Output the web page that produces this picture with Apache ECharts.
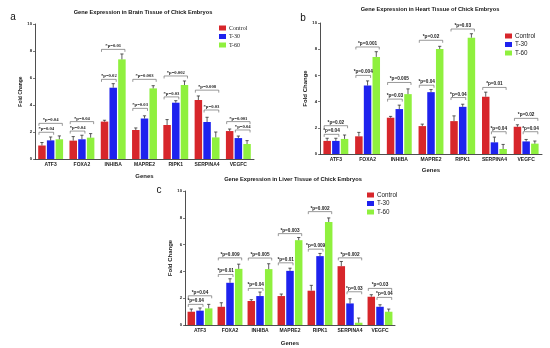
<!DOCTYPE html>
<html><head><meta charset="utf-8">
<script src="https://cdn.jsdelivr.net/npm/echarts@6/dist/echarts.min.js"></script>
<style>html,body{margin:0;padding:0;background:#fff}#c{width:550px;height:348px}</style>
</head><body><div id="c"></div>
<script>
const genes = ['ATF3','FOXA2','INHIBA','MAPRE2','RIPK1','SERPINA4','VEGFC'];
const groups = ['Control','T-30','T-60'];
const yTicks = [0,2,4,6,8,10];

// Brain
const brainControl = [1.0,1.36,2.77,2.15,2.52,4.37,2.07];
const brainT30 = [1.38,1.46,5.28,3.0,4.17,2.74,1.55];
const brainT60 = [1.46,1.58,7.38,5.23,5.48,1.6,1.11];
const brainControlErr = [0.22,0.3,0.1,0.15,0.4,0.3,0.15];
const brainT30Err = [0.25,0.3,0.3,0.2,0.15,0.35,0.15];
const brainT60Err = [0.25,0.3,0.4,0.2,0.3,0.4,0.25];
// [gene index, from group, to group, level, label]
const brainBrackets = [
 [0,0,2,2.64,'*p=0.04'],[0,0,1,1.98,'*p=0.04'],
 [1,0,2,2.77,'*p=0.04'],[1,0,1,2.07,'*p=0.04'],
 [2,0,2,8.12,'*p=0.01'],[2,0,1,5.9,'*p=0.02'],
 [3,0,2,5.9,'*p=0.003'],[3,0,1,3.75,'*p=0.03'],
 [4,0,2,6.15,'*p=0.002'],[4,0,1,4.6,'*p=0.03'],
 [5,0,2,5.1,'*p=0.008'],[5,1,2,3.63,'*p=0.03'],
 [6,0,2,2.77,'*p=0.001'],[6,1,2,2.15,'*p=0.04']
];

// Heart
const heartControl = [1.0,1.35,2.77,2.13,2.51,4.37,2.08];
const heartT30 = [1.0,5.23,3.43,4.72,3.6,0.89,0.96];
const heartT60 = [1.15,7.41,4.57,8.02,8.88,0.38,0.79];
const heartControlErr = [0.2,0.3,0.1,0.15,0.4,0.35,0.15];
const heartT30Err = [0.2,0.35,0.3,0.2,0.2,0.4,0.15];
const heartT60Err = [0.3,0.4,0.4,0.2,0.3,0.35,0.2];
const heartBrackets = [
 [0,0,2,2.16,'*p=0.02'],[0,0,1,1.5,'*p=0.04'],
 [1,0,2,8.17,'*p=0.001'],[1,0,1,6.0,'*p=0.004'],
 [2,0,2,5.46,'*p=0.005'],[2,0,1,4.19,'*p=0.03'],
 [3,0,2,8.68,'*p=0.02'],[3,0,1,5.25,'*p=0.04'],
 [4,0,2,9.54,'*p=0.03'],[4,0,1,4.31,'*p=0.04'],
 [5,0,2,5.08,'*p=0.01'],[5,1,2,1.7,'*p=0.04'],
 [6,0,2,2.72,'*p=0.02'],[6,1,2,1.7,'*p=0.04']
];

// Liver
const liverControl = [0.99,1.36,1.79,2.16,2.56,4.39,2.11];
const liverT30 = [1.07,3.15,2.16,4.04,5.14,1.61,1.36];
const liverT60 = [1.24,4.19,4.17,6.33,7.69,0.17,0.99];
const liverControlErr = [0.2,0.3,0.1,0.15,0.4,0.35,0.15];
const liverT30Err = [0.2,0.3,0.3,0.2,0.2,0.35,0.15];
const liverT60Err = [0.3,0.35,0.4,0.2,0.3,0.35,0.2];
const liverBrackets = [
 [0,0,2,2.18,'*p=0.04'],[0,0,1,1.54,'*p=0.04'],
 [1,0,2,5.01,'*p=0.009'],[1,0,1,3.77,'*p=0.01'],
 [2,0,2,5.0,'*p=0.005'],[2,0,1,2.73,'*p=0.04'],
 [3,0,2,6.82,'*p=0.003'],[3,0,1,4.64,'*p=0.01'],
 [4,0,2,8.46,'*p=0.002'],[4,0,1,5.66,'*p=0.009'],
 [5,0,2,5.01,'*p=0.002'],[5,1,2,2.48,'*p=0.03'],
 [6,0,2,2.73,'*p=0.03'],[6,1,2,2.06,'*p=0.04']
];

const colors = ['#d7262b','#1e22ee','#8ff03e'];
const SANS = 'Liberation Sans';
const SERIF = 'Liberation Serif';
const BAR_W = 7.5, BAR_STEP = 8.7;

const panels = [
 { title:'Gene Expression in Brain Tissue of Chick Embryos', letter:'a',
   vals:[brainControl,brainT30,brainT60], errs:[brainControlErr,brainT30Err,brainT60Err], brackets:brainBrackets,
   grid:{left:35, top:24, width:219, height:135}, titlePos:[143,12], letterPos:[13,17],
   legend:{left:219, top:25}, legendFont:SERIF, legendSize:6, pFont:SERIF, nameGapY:11, nameGapX:14, yNameSize:5, xNameSize:6 },
 { title:'Gene Expression in Heart Tissue of Chick Embryos', letter:'b',
   vals:[heartControl,heartT30,heartT60], errs:[heartControlErr,heartT30Err,heartT60Err], brackets:heartBrackets,
   grid:{left:320, top:23, width:222, height:131}, titlePos:[430,9], letterPos:[303,18],
   legend:{left:505, top:33}, legendFont:SANS, legendSize:6.3, pFont:SANS, nameGapY:11, nameGapX:13, yNameSize:6, xNameSize:6 },
 { title:'Gene Expression in Liver Tissue of Chick Embryos', letter:'c',
   vals:[liverControl,liverT30,liverT60], errs:[liverControlErr,liverT30Err,liverT60Err], brackets:liverBrackets,
   grid:{left:185, top:191, width:210, height:134}, titlePos:[293,179], letterPos:[159,190],
   legend:{left:367, top:192}, legendFont:SANS, legendSize:6.3, pFont:SANS, nameGapY:11, nameGapX:15, yNameSize:6, xNameSize:6 }
];

const option = {
  backgroundColor:'#fff',
  animation:false,
  grid:[], xAxis:[], yAxis:[], legend:[], series:[], graphic:[]
};

panels.forEach((p, pi) => {
  option.grid.push(Object.assign({containLabel:false}, p.grid));
  option.xAxis.push({
    type:'category', gridIndex:pi, data:genes,
    name:'Genes', nameLocation:'middle', nameGap:p.nameGapX,
    nameTextStyle:{fontFamily:SANS, fontWeight:'bold', fontSize:p.xNameSize, color:'#222'},
    axisLine:{lineStyle:{color:'#222', width:0.8}},
    axisTick:{show:false},
    axisLabel:{fontFamily:SANS, fontWeight:'bold', fontSize:5, color:'#222', margin:3, interval:0}
  });
  option.yAxis.push({
    type:'value', gridIndex:pi, min:yTicks[0], max:yTicks[yTicks.length-1], interval:2,
    name:'Fold Change', nameLocation:'middle', nameGap:p.nameGapY, nameRotate:90,
    nameTextStyle:{fontFamily:SANS, fontWeight:'bold', fontSize:p.yNameSize, color:'#222'},
    axisLine:{show:true, lineStyle:{color:'#222', width:0.8}},
    axisTick:{show:true, length:2, lineStyle:{color:'#222', width:0.6}},
    axisLabel:{fontFamily:SANS, fontWeight:'bold', fontSize:4.2, color:'#222', margin:3},
    splitLine:{show:false}
  });
  option.legend.push({
    left:p.legend.left, top:p.legend.top, orient:'vertical',
    itemWidth:7, itemHeight:5, itemGap:2.5, icon:'rect', padding:0,
    data:groups,
    textStyle:{fontFamily:p.legendFont, fontSize:p.legendSize, color:'#222', padding:[0,0,0,-2]}
  });
  groups.forEach((g, gi) => {
    option.series.push({
      type:'bar', name:g, xAxisIndex:pi, yAxisIndex:pi,
      data:p.vals[gi], barWidth:BAR_W, barGap:'16%',
      itemStyle:{color:colors[gi]}, z:2
    });
  });
  // error bars
  const errData = [];
  groups.forEach((g, gi) => {
    genes.forEach((gn, i) => errData.push([i, p.vals[gi][i], p.errs[gi][i], gi]));
  });
  option.series.push({
    type:'custom', xAxisIndex:pi, yAxisIndex:pi, z:3, clip:false,
    data:errData, encode:{x:0, y:1},
    renderItem:(params, api) => {
      const i = api.value(0), v = api.value(1), e = api.value(2), gi = api.value(3);
      const base = api.coord([i, v]);
      const top = api.coord([i, v + e]);
      const x = base[0] + (gi - 1) * BAR_STEP;
      return {type:'group', children:[
        {type:'line', shape:{x1:x, y1:base[1], x2:x, y2:top[1]}, style:{stroke:'#333', lineWidth:0.8}},
        {type:'line', shape:{x1:x-1.6, y1:top[1], x2:x+1.6, y2:top[1]}, style:{stroke:'#333', lineWidth:0.8}}
      ]};
    }
  });
  // brackets with p-values
  const br = p.brackets;
  option.series.push({
    type:'custom', xAxisIndex:pi, yAxisIndex:pi, z:4, clip:false,
    data:br.map(b => [b[0], b[1], b[2], b[3]]), encode:{x:0, y:3},
    renderItem:(params, api) => {
      const i = api.value(0), f = api.value(1), t = api.value(2), lv = api.value(3);
      const c = api.coord([i, lv]);
      const x1 = c[0] + (f - 1) * BAR_STEP - 3;
      const x2 = c[0] + (t - 1) * BAR_STEP + 3;
      const y = c[1];
      return {type:'group', children:[
        {type:'polyline', shape:{points:[[x1,y+2.5],[x1,y],[x2,y],[x2,y+2.5]]}, style:{stroke:'#555', fill:null, lineWidth:0.6}},
        {type:'text', style:{text:br[params.dataIndex][4], x:(x1+x2)/2, y:y-0.8, align:'center', verticalAlign:'bottom',
          fontFamily:p.pFont, fontWeight:'bold', fontSize:4.7, fill:'#222'}}
      ]};
    }
  });
  option.graphic.push({
    type:'text', x:p.titlePos[0], y:p.titlePos[1],
    style:{text:p.title, align:'center', verticalAlign:'middle', fontFamily:SANS, fontWeight:'bold', fontSize:5.7, fill:'#111'}
  });
  option.graphic.push({
    type:'text', x:p.letterPos[0], y:p.letterPos[1],
    style:{text:p.letter, align:'center', verticalAlign:'middle', fontFamily:SANS, fontSize:10, fill:'#111'}
  });
});

const chart = echarts.init(document.getElementById('c'), null, {renderer:'canvas'});
chart.setOption(option);
</script></body></html>
